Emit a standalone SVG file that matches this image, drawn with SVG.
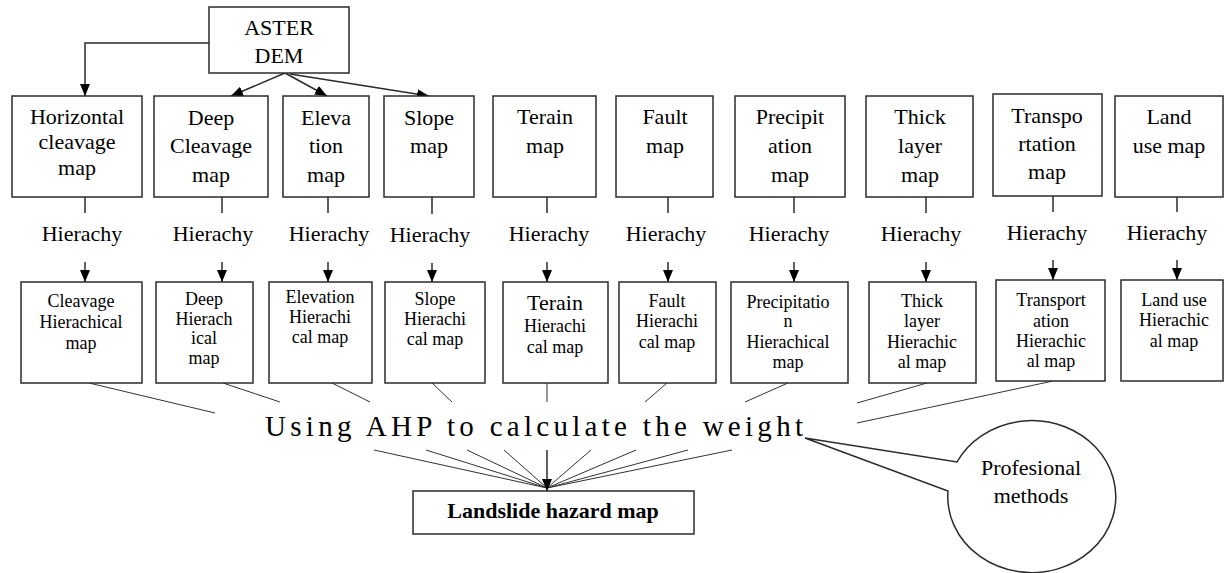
<svg xmlns="http://www.w3.org/2000/svg" width="1225" height="573" viewBox="0 0 1225 573">
<defs>
<style>
.box{fill:#fff;stroke:#2b2b2b;stroke-width:1.5}
.t{font-family:"Liberation Serif","Times New Roman",serif;font-size:22px;fill:#000;text-anchor:middle}
.s{font-size:18px}
.ln{stroke:#2b2b2b;stroke-width:1.5;fill:none}
.fan{stroke:#333;stroke-width:1;fill:none}
</style>
<marker id="ah" viewBox="0 0 12 10" refX="12" refY="5" markerWidth="12" markerHeight="10" markerUnits="userSpaceOnUse" orient="auto">
<path d="M0,0 L12,5 L0,10 z" fill="#000"/>
</marker>
</defs>
<rect width="1225" height="573" fill="#fff"/>

<g id="connectors">
<polyline class="ln" points="209,43 85,43 85,96" marker-end="url(#ah)"/>
<line class="ln" x1="285" y1="73" x2="231" y2="96" marker-end="url(#ah)"/>
<line class="ln" x1="285" y1="73" x2="327" y2="96" marker-end="url(#ah)"/>
<line class="ln" x1="290" y1="74" x2="429" y2="96" marker-end="url(#ah)"/>
<g class="ln">
<line x1="85" y1="197" x2="85" y2="213"/>
<line x1="222" y1="197" x2="222" y2="213"/>
<line x1="328" y1="197" x2="328" y2="213"/>
<line x1="432" y1="197" x2="432" y2="214"/>
<line x1="547" y1="197" x2="547" y2="213"/>
<line x1="668" y1="197" x2="668" y2="213"/>
<line x1="794" y1="197" x2="794" y2="213"/>
<line x1="926" y1="197" x2="926" y2="213"/>
<line x1="1053" y1="196" x2="1053" y2="212"/>
<line x1="1177" y1="197" x2="1177" y2="212"/>
</g>
<g class="ln">
<line x1="85" y1="262" x2="85" y2="282" marker-end="url(#ah)"/>
<line x1="222" y1="262" x2="222" y2="282" marker-end="url(#ah)"/>
<line x1="328" y1="262" x2="328" y2="282" marker-end="url(#ah)"/>
<line x1="432" y1="263" x2="432" y2="282" marker-end="url(#ah)"/>
<line x1="547" y1="262" x2="547" y2="282" marker-end="url(#ah)"/>
<line x1="668" y1="262" x2="668" y2="282" marker-end="url(#ah)"/>
<line x1="794" y1="262" x2="794" y2="282" marker-end="url(#ah)"/>
<line x1="926" y1="262" x2="926" y2="282" marker-end="url(#ah)"/>
<line x1="1053" y1="260" x2="1053" y2="280" marker-end="url(#ah)"/>
<line x1="1177" y1="260" x2="1177" y2="280" marker-end="url(#ah)"/>
</g>
<g class="fan">
<line x1="89" y1="383" x2="215" y2="413"/>
<line x1="223" y1="383" x2="280" y2="402"/>
<line x1="332" y1="383" x2="370" y2="402"/>
<line x1="432" y1="383" x2="452" y2="402"/>
<line x1="547" y1="383" x2="547" y2="402"/>
<line x1="667" y1="383" x2="645" y2="402"/>
<line x1="788" y1="383" x2="745" y2="402"/>
<line x1="927" y1="383" x2="857" y2="403"/>
<line x1="1053" y1="381" x2="857" y2="423"/>
<line x1="374" y1="450" x2="547" y2="488"/>
<line x1="426" y1="450" x2="547" y2="488"/>
<line x1="467" y1="450" x2="547" y2="488"/>
<line x1="504" y1="450" x2="547" y2="488"/>
<line x1="591" y1="450" x2="547" y2="488"/>
<line x1="636" y1="450" x2="547" y2="488"/>
<line x1="688" y1="450" x2="547" y2="488"/>
<line x1="732" y1="450" x2="547" y2="488"/>
</g>
<line class="ln" x1="547" y1="450" x2="547" y2="491" marker-end="url(#ah)"/>
</g>

<g id="aster">
<rect class="box" x="209" y="7" width="140" height="66"/>
<text class="t" x="279" y="35">ASTER</text>
<text class="t" x="279" y="63">DEM</text>
</g>

<g id="horizontal">
<rect class="box" x="12" y="96" width="130" height="101"/>
<text class="t" x="77" y="124">Horizontal</text>
<text class="t" x="77" y="149">cleavage</text>
<text class="t" x="77" y="175">map</text>
</g>
<g id="deep">
<rect class="box" x="154" y="96" width="114" height="101"/>
<text class="t" x="211" y="125">Deep</text>
<text class="t" x="211" y="153">Cleavage</text>
<text class="t" x="211" y="182">map</text>
</g>
<g id="elevation">
<rect class="box" x="283" y="96" width="86" height="101"/>
<text class="t" x="326" y="125">Eleva</text>
<text class="t" x="326" y="153">tion</text>
<text class="t" x="326" y="182">map</text>
</g>
<g id="slope">
<rect class="box" x="384" y="96" width="90" height="101"/>
<text class="t" x="429" y="125">Slope</text>
<text class="t" x="429" y="153">map</text>
</g>
<g id="terain">
<rect class="box" x="493" y="96" width="103" height="101"/>
<text class="t" x="545" y="124">Terain</text>
<text class="t" x="545" y="153">map</text>
</g>
<g id="fault">
<rect class="box" x="616" y="96" width="97" height="101"/>
<text class="t" x="665" y="124">Fault</text>
<text class="t" x="665" y="153">map</text>
</g>
<g id="precip">
<rect class="box" x="735" y="96" width="110" height="101"/>
<text class="t" x="790" y="124">Precipit</text>
<text class="t" x="790" y="153">ation</text>
<text class="t" x="790" y="182">map</text>
</g>
<g id="thick">
<rect class="box" x="866" y="96" width="107" height="101"/>
<text class="t" x="920" y="124">Thick</text>
<text class="t" x="920" y="153">layer</text>
<text class="t" x="920" y="182">map</text>
</g>
<g id="transpo">
<rect class="box" x="993" y="94" width="109" height="102"/>
<text class="t" x="1047" y="123">Transpo</text>
<text class="t" x="1047" y="151">rtation</text>
<text class="t" x="1047" y="179">map</text>
</g>
<g id="landuse">
<rect class="box" x="1115" y="96" width="108" height="101"/>
<text class="t" x="1169" y="124">Land</text>
<text class="t" x="1169" y="153">use map</text>
</g>

<g id="hierachy-labels">
<text class="t" x="82" y="241">Hierachy</text>
<text class="t" x="213" y="241">Hierachy</text>
<text class="t" x="329" y="241">Hierachy</text>
<text class="t" x="430" y="242">Hierachy</text>
<text class="t" x="549" y="241">Hierachy</text>
<text class="t" x="666" y="241">Hierachy</text>
<text class="t" x="789" y="241">Hierachy</text>
<text class="t" x="921" y="241">Hierachy</text>
<text class="t" x="1047" y="240">Hierachy</text>
<text class="t" x="1167" y="240">Hierachy</text>
</g>

<g id="cleavage-h">
<rect class="box" x="21" y="282" width="121" height="101"/>
<text class="t s" x="81" y="307">Cleavage</text>
<text class="t s" x="81" y="328">Hierachical</text>
<text class="t s" x="81" y="349">map</text>
</g>
<g id="deep-h">
<rect class="box" x="156" y="282" width="97" height="101"/>
<text class="t s" x="204" y="305">Deep</text>
<text class="t s" x="204" y="325">Hierach</text>
<text class="t s" x="204" y="344">ical</text>
<text class="t s" x="204" y="364">map</text>
</g>
<g id="elevation-h">
<rect class="box" x="269" y="282" width="103" height="101"/>
<text class="t s" x="320" y="303">Elevation</text>
<text class="t s" x="320" y="323">Hierachi</text>
<text class="t s" x="320" y="343">cal map</text>
</g>
<g id="slope-h">
<rect class="box" x="385" y="282" width="100" height="101"/>
<text class="t s" x="435" y="305">Slope</text>
<text class="t s" x="435" y="325">Hierachi</text>
<text class="t s" x="435" y="345">cal map</text>
</g>
<g id="terain-h">
<rect class="box" x="503" y="282" width="105" height="101"/>
<text class="t" x="555" y="310">Terain</text>
<text class="t s" x="555" y="332">Hierachi</text>
<text class="t s" x="555" y="353">cal map</text>
</g>
<g id="fault-h">
<rect class="box" x="619" y="282" width="97" height="101"/>
<text class="t s" x="667" y="307">Fault</text>
<text class="t s" x="667" y="327">Hierachi</text>
<text class="t s" x="667" y="348">cal map</text>
</g>
<g id="precip-h">
<rect class="box" x="731" y="282" width="117" height="101"/>
<text class="t s" x="788" y="308">Precipitatio</text>
<text class="t s" x="788" y="327">n</text>
<text class="t s" x="788" y="348">Hierachical</text>
<text class="t s" x="788" y="368">map</text>
</g>
<g id="thick-h">
<rect class="box" x="869" y="282" width="107" height="101"/>
<text class="t s" x="922" y="307">Thick</text>
<text class="t s" x="922" y="327">layer</text>
<text class="t s" x="922" y="348">Hierachic</text>
<text class="t s" x="922" y="368">al map</text>
</g>
<g id="transport-h">
<rect class="box" x="996" y="280" width="109" height="101"/>
<text class="t s" x="1051" y="306">Transport</text>
<text class="t s" x="1051" y="327">ation</text>
<text class="t s" x="1051" y="347">Hierachic</text>
<text class="t s" x="1051" y="367">al map</text>
</g>
<g id="landuse-h">
<rect class="box" x="1121" y="280" width="102" height="101"/>
<text class="t s" x="1174" y="306">Land use</text>
<text class="t s" x="1174" y="326">Hierachic</text>
<text class="t s" x="1174" y="347">al map</text>
</g>

<g id="ahp">
<text x="265" y="436" font-family="Liberation Serif, Times New Roman, serif" font-size="29" fill="#000" textLength="538" lengthAdjust="spacing">Using AHP to calculate the weight</text>
</g>

<g id="landslide">
<rect class="box" x="413" y="491" width="281" height="43"/>
<text class="t" x="553" y="518" font-weight="bold" style="font-size:22px">Landslide hazard map</text>
</g>

<g id="professional">
<path class="box" d="M957,462 A84,76 0 1 1 948,491 L805,438 Z"/>
<text class="t" x="1031" y="475">Profesional</text>
<text class="t" x="1031" y="503">methods</text>
</g>
</svg>
